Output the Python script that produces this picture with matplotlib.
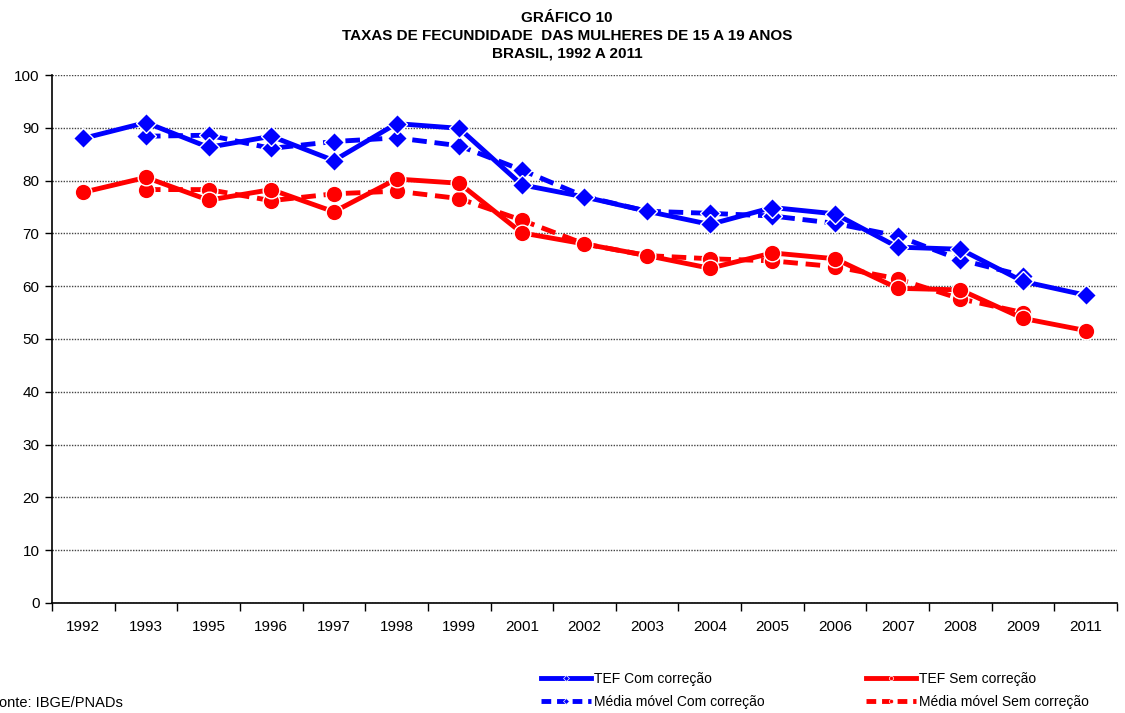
import matplotlib
matplotlib.use("Agg")
import matplotlib.pyplot as plt
from matplotlib.lines import Line2D
import numpy as np

years = ["1992", "1993", "1995", "1996", "1997", "1998", "1999", "2001", "2002",
         "2003", "2004", "2005", "2006", "2007", "2008", "2009", "2011"]
tef_com = [88.0, 91.0, 86.3, 88.4, 83.8, 90.8, 89.9, 79.2, 76.9, 74.2, 71.7,
           74.9, 73.7, 67.4, 67.0, 60.9, 58.3]
tef_sem = [77.8, 80.6, 76.3, 78.3, 74.1, 80.3, 79.5, 70.1, 68.0, 65.8, 63.4,
           66.3, 65.2, 59.6, 59.3, 53.9, 51.6]
mm_com = [None, 88.4, 88.6, 86.1, 87.4, 88.1, 86.6, 82.0, 77.0, 74.2, 73.8,
          73.3, 71.9, 69.5, 65.0, 62.0, None]
mm_sem = [None, 78.3, 78.3, 76.2, 77.5, 78.0, 76.6, 72.5, 68.0, 65.8, 65.2,
          64.8, 63.7, 61.4, 57.6, 55.0, None]

title = "GRÁFICO 10\nTAXAS DE FECUNDIDADE  DAS MULHERES DE 15 A 19 ANOS\nBRASIL, 1992 A 2011"
fonte = "Fonte: IBGE/PNADs"

plt.rcParams['font.family'] = ['Liberation Sans', 'DejaVu Sans']

fig = plt.figure(figsize=(11.25, 7.13), dpi=100)
ax = fig.add_axes([0.0462, 0.1543, 0.9467, 0.7405])

x = np.arange(len(years))

def arr(v):
    return np.array([np.nan if a is None else a for a in v], dtype=float)

blue = "#0000FF"
red = "#FF0000"
ax.plot(x, arr(mm_com), color=blue, lw=3.5, ls=(0, (3, 1.6)), marker="D", ms=10,
        mec="white", mew=1, zorder=3)
ax.plot(x, arr(mm_sem), color=red, lw=3.5, ls=(0, (3, 1.6)), marker="o", ms=12,
        mec="white", mew=1, zorder=3)
ax.plot(x, arr(tef_com), color=blue, lw=3.5, marker="D", ms=10,
        mec="white", mew=1, zorder=4)
ax.plot(x, arr(tef_sem), color=red, lw=3.5, marker="o", ms=12,
        mec="white", mew=1, zorder=4)

ax.set_xlim(-0.5, len(years) - 0.5)
ax.set_ylim(0, 100)
ax.set_yticks(np.arange(0, 101, 10))
ax.yaxis.grid(True, color="#444444", ls=(0, (1, 1)), lw=1)
ax.set_axisbelow(True)
ax.set_xticks(x)
ax.set_xticklabels(years)
ax.set_xticks(np.arange(-0.5, len(years), 1), minor=True)
ax.tick_params(axis="x", which="major", length=0, pad=12, labelsize=11)
ax.tick_params(axis="x", which="minor", length=6, width=1, direction="out")
ax.tick_params(axis="y", length=5, width=1, direction="out", labelsize=11, pad=4)
for s in ["top", "right"]:
    ax.spines[s].set_visible(False)
for s in ["left", "bottom"]:
    ax.spines[s].set_color("black")
    ax.spines[s].set_linewidth(1.2)

fig.text(0.504, 0.984, title, ha="center", va="top", fontsize=11,
         fontweight="bold", linespacing=1.3)

fig.text(-0.009, 0.004, fonte, ha="left", va="bottom", fontsize=10.5)

handles = [
    Line2D([], [], color=blue, lw=3.5, marker="D", ms=3, mec="white", mew=0.5),
    Line2D([], [], color=blue, lw=3.5, ls=(0, (2, 1.2)), marker="D", ms=3, mec="white", mew=0.5),
    Line2D([], [], color=red, lw=3.5, marker="o", ms=3, mec="white", mew=0.5),
    Line2D([], [], color=red, lw=3.5, ls=(0, (2, 1.2)), marker="o", ms=3, mec="white", mew=0.5),
]
labels = ["TEF Com correção", "Média móvel Com correção",
          "TEF Sem correção", "Média móvel Sem correção"]
leg = fig.legend(handles, labels, ncol=2, loc="lower left",
                 bbox_to_anchor=(0.47, -0.012), frameon=False,
                 handlelength=3.6, handletextpad=0.2, columnspacing=7.3,
                 labelspacing=0.65,
                 prop={'size': 10})

fig.savefig("out.png", dpi=100)
